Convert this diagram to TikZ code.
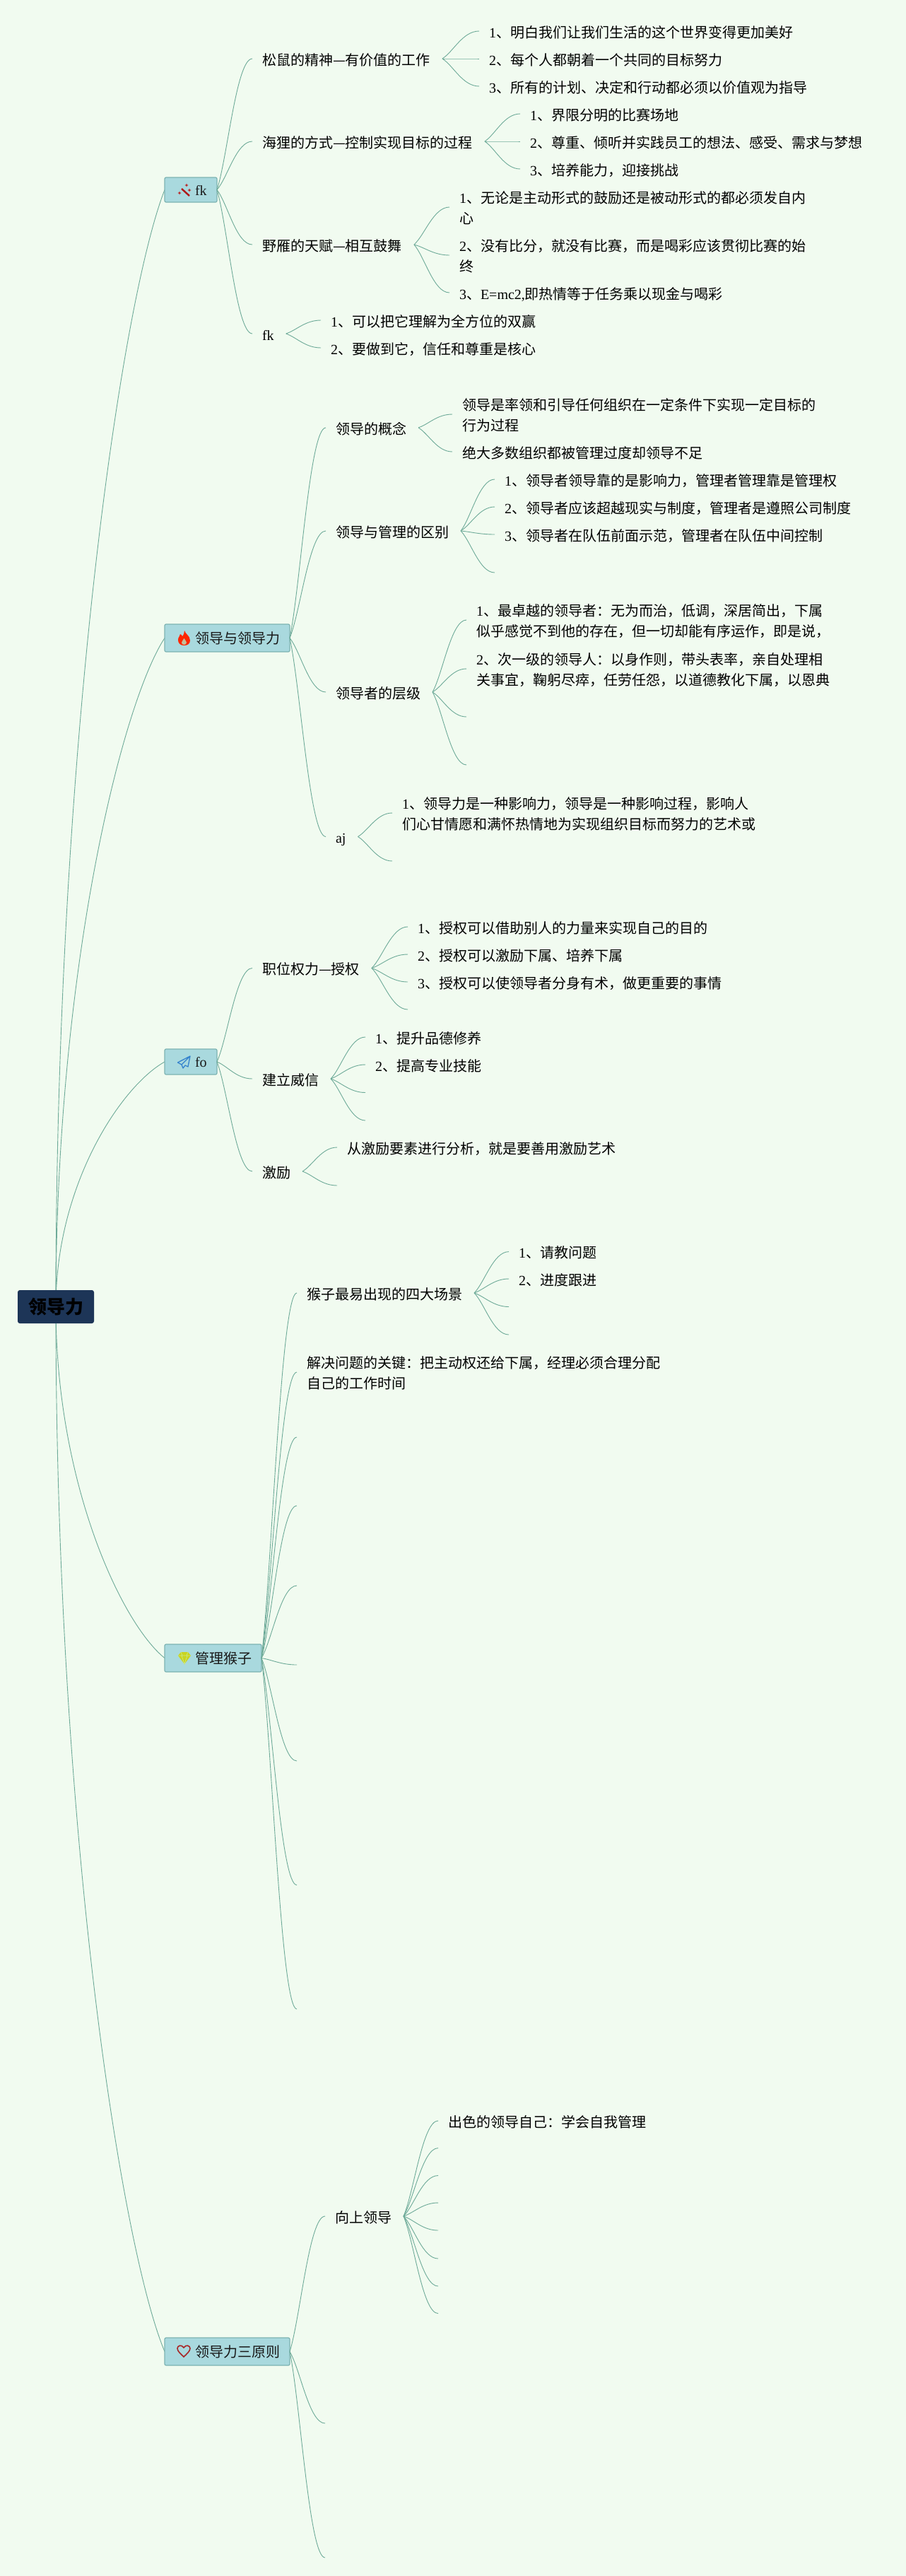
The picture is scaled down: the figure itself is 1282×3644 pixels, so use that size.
\documentclass[tikz,border=0pt]{standalone}
\usepackage{fontspec}
\setmainfont{Noto Sans CJK SC}
\newfontfamily\latfont{Liberation Serif}
\usetikzlibrary{calc,backgrounds}
\definecolor{pagebg}{HTML}{F1FBF0}
\definecolor{linkc}{HTML}{6DAA98}
\definecolor{topicfill}{HTML}{A9D9DE}
\definecolor{topicline}{HTML}{7DB3B2}
\definecolor{rootfill}{HTML}{1D3557}
\newcommand\lat[1]{{\latfont #1}}
\newcommand\mst{\vrule width 0pt height 23.6pt depth 5.4pt\relax}
\newcommand\oneln[1]{\hbox{\hskip14pt\mst #1\hskip17pt}}
\newcommand\twoln[2]{\vbox{\offinterlineskip\hbox{\hskip14pt\mst #1\hskip17pt}\hbox{\hskip14pt\mst #2\hskip17pt}}}
\newcommand\boxln[2]{\hbox to #1{\hskip43pt\vrule width 0pt height 17.6pt depth 2.4pt\relax #2\hfil}}
\newcommand\sbend[2]{\draw[link] let \p1=(#1),\p2=(#2),\n1={\x2-\x1},\n2={\y2-\y1} in
  (\x1,\y1) .. controls (\x1+0.3*\n1,\y1+0.25*\n2) and (\x1+0.55*\n1,\y2) .. (\x2,\y2);}
\newcommand\rbend[2]{\draw[link] let \p1=(#1),\p2=(#2),\n1={\x2-\x1},\n2={\y2-\y1} in
  (\x1,\y1) .. controls (\x1,\y1+0.5*\n2) and (\x1+0.6*\n1,\y1+0.9*\n2) .. (\x2,\y2);}
\tikzset{
  link/.style={draw=linkc,line width=0.9pt},
  txt/.style={inner sep=0pt,anchor=west,outer sep=0pt,font=\fontsize{20}{29}\selectfont,text=black},
  topic/.style={draw=topicline,fill=topicfill,line width=1.2pt,rounded corners=2pt,inner sep=0pt,anchor=west,outer sep=0pt,font=\fontsize{20}{29}\selectfont,text=black!90},
  rootbox/.style={fill=rootfill,rounded corners=3pt,inner sep=0pt,minimum width=108pt,minimum height=47pt,font=\fontsize{26}{30}\selectfont\bfseries,text=black}
}
\begin{document}
\begin{tikzpicture}[x=1pt,y=-1pt]
\useasboundingbox (0,0) rectangle (1282,3644);
\begin{scope}[on background layer]
\fill[pagebg] (0,0) rectangle (1282,3644);
\end{scope}
% root and topics
\node[rootbox] (root) at (79,1848.5) {领导力};
\node[topic,minimum height=35pt] (fk) at (233,268.5) {\boxln{74pt}{\lat{fk}}};
\node[topic,minimum height=39pt] (lead) at (233,902.5) {\boxln{177pt}{领导与领导力}};
\node[topic,minimum height=36pt] (fo) at (233,1502) {\boxln{74pt}{\lat{fo}}};
\node[topic,minimum height=39pt] (mon) at (233,2345.5) {\boxln{137pt}{管理猴子}};
\node[topic,minimum height=39pt] (rule) at (233,3326.5) {\boxln{177pt}{领导力三原则}};
% branch fk
\node[txt] (a1) at (357,83) {\oneln{松鼠的精神—有价值的工作}};
\node[txt] (a2) at (357,200) {\oneln{海狸的方式—控制实现目标的过程}};
\node[txt] (a3) at (357,346) {\oneln{野雁的天赋—相互鼓舞}};
\node[txt] (a4) at (357,472) {\oneln{\lat{fk}}};
\node[txt] (a11) at (678,44) {\oneln{\lat{1}、明白我们让我们生活的这个世界变得更加美好}};
\node[txt] (a12) at (678,83) {\oneln{\lat{2}、每个人都朝着一个共同的目标努力}};
\node[txt] (a13) at (678,122) {\oneln{\lat{3}、所有的计划、决定和行动都必须以价值观为指导}};
\node[txt] (a21) at (736,161) {\oneln{\lat{1}、界限分明的比赛场地}};
\node[txt] (a22) at (736,200) {\oneln{\lat{2}、尊重、倾听并实践员工的想法、感受、需求与梦想}};
\node[txt] (a23) at (736,239) {\oneln{\lat{3}、培养能力，迎接挑战}};
\node[txt] (a31) at (636,293) {\twoln{\lat{1}、无论是主动形式的鼓励还是被动形式的都必须发自内}{心}};
\node[txt] (a32) at (636,361) {\twoln{\lat{2}、没有比分，就没有比赛，而是喝彩应该贯彻比赛的始}{终}};
\node[txt] (a33) at (636,414) {\oneln{\lat{3}、\lat{E=mc2,}即热情等于任务乘以现金与喝彩}};
\node[txt] (a41) at (454,453) {\oneln{\lat{1}、可以把它理解为全方位的双赢}};
\node[txt] (a42) at (454,492) {\oneln{\lat{2}、要做到它，信任和尊重是核心}};
% branch lead
\node[txt] (b1) at (461,605) {\oneln{领导的概念}};
\node[txt] (b2) at (461,751) {\oneln{领导与管理的区别}};
\node[txt] (b3) at (461,979) {\oneln{领导者的层级}};
\node[txt] (b4) at (461,1183.5) {\oneln{\lat{aj}}};
\node[txt] (b11) at (640,586) {\twoln{领导是率领和引导任何组织在一定条件下实现一定目标的}{行为过程}};
\node[txt] (b12) at (640,639) {\oneln{绝大多数组织都被管理过度却领导不足}};
\node[txt] (b21) at (700,678) {\oneln{\lat{1}、领导者领导靠的是影响力，管理者管理靠是管理权}};
\node[txt] (b22) at (700,717) {\oneln{\lat{2}、领导者应该超越现实与制度，管理者是遵照公司制度}};
\node[txt] (b23) at (700,756) {\oneln{\lat{3}、领导者在队伍前面示范，管理者在队伍中间控制}};
\coordinate (b24) at (700,810);
\node[txt] (b31) at (660,877) {\twoln{\lat{1}、最卓越的领导者：无为而治，低调，深居简出，下属}{似乎感觉不到他的存在，但一切却能有序运作，即是说，}};
\node[txt] (b32) at (660,946) {\twoln{\lat{2}、次一级的领导人：以身作则，带头表率，亲自处理相}{关事宜，鞠躬尽瘁，任劳任怨，以道德教化下属，以恩典}};
\coordinate (b33) at (660,1014);
\coordinate (b34) at (660,1082);
\node[txt] (b41) at (555,1150) {\twoln{\lat{1}、领导力是一种影响力，领导是一种影响过程，影响人}{们心甘情愿和满怀热情地为实现组织目标而努力的艺术或}};
\coordinate (b42) at (555,1218);
% branch fo
\node[txt] (c1) at (357,1369.5) {\oneln{职位权力—授权}};
\node[txt] (c2) at (357,1526) {\oneln{建立威信}};
\node[txt] (c3) at (357,1657) {\oneln{激励}};
\node[txt] (c11) at (577,1311) {\oneln{\lat{1}、授权可以借助别人的力量来实现自己的目的}};
\node[txt] (c12) at (577,1350) {\oneln{\lat{2}、授权可以激励下属、培养下属}};
\node[txt] (c13) at (577,1389) {\oneln{\lat{3}、授权可以使领导者分身有术，做更重要的事情}};
\coordinate (c14) at (577,1428);
\node[txt] (c21) at (517,1467) {\oneln{\lat{1}、提升品德修养}};
\node[txt] (c22) at (517,1506) {\oneln{\lat{2}、提高专业技能}};
\coordinate (c23) at (517,1545.5);
\coordinate (c24) at (517,1585);
\node[txt] (c31) at (477,1623) {\oneln{从激励要素进行分析，就是要善用激励艺术}};
\coordinate (c32) at (477,1677);
% branch mon
\node[txt] (d1) at (420,1829) {\oneln{猴子最易出现的四大场景}};
\node[txt] (d2) at (420,1941) {\twoln{解决问题的关键：把主动权还给下属，经理必须合理分配}{自己的工作时间}};
\coordinate (d3) at (420,2033);
\coordinate (d4) at (420,2130);
\coordinate (d5) at (420,2243);
\coordinate (d6) at (420,2355);
\coordinate (d7) at (420,2491);
\coordinate (d8) at (420,2666.5);
\coordinate (d9) at (420,2842);
\node[txt] (d11) at (720,1770.6) {\oneln{\lat{1}、请教问题}};
\node[txt] (d12) at (720,1809) {\oneln{\lat{2}、进度跟进}};
\coordinate (d13) at (720,1848.5);
\coordinate (d14) at (720,1888);
% branch rule
\node[txt] (e1) at (460,3135) {\oneln{向上领导}};
\coordinate (e2) at (460,3428);
\coordinate (e3) at (460,3618);
\node[txt] (e11) at (620,3000) {\oneln{出色的领导自己：学会自我管理}};
\coordinate (e12) at (620,3038.6);
\coordinate (e13) at (620,3077.5);
\coordinate (e14) at (620,3116);
\coordinate (e15) at (620,3155);
\coordinate (e16) at (620,3195);
\coordinate (e17) at (620,3234);
\coordinate (e18) at (620,3272.6);
% connectors
\begin{scope}[on background layer]
\foreach \t in {fk,lead,fo,mon,rule} {\rbend{root.center}{\t.west}}
\end{scope}
\foreach \c in {a1,a2,a3,a4} {\sbend{fk.east}{\c.west}}
\foreach \c in {a11,a12,a13} {\sbend{a1.east}{\c.west}}
\foreach \c in {a21,a22,a23} {\sbend{a2.east}{\c.west}}
\foreach \c in {a31,a32,a33} {\sbend{a3.east}{\c.west}}
\foreach \c in {a41,a42} {\sbend{a4.east}{\c.west}}
\foreach \c in {b1,b2,b3,b4} {\sbend{lead.east}{\c.west}}
\foreach \c in {b11,b12} {\sbend{b1.east}{\c.west}}
\foreach \c in {b21,b22,b23} {\sbend{b2.east}{\c.west}}
\sbend{b2.east}{b24}
\foreach \c in {b31,b32} {\sbend{b3.east}{\c.west}}
\foreach \c in {b33,b34} {\sbend{b3.east}{\c}}
\sbend{b4.east}{b41.west}
\sbend{b4.east}{b42}
\foreach \c in {c1,c2,c3} {\sbend{fo.east}{\c.west}}
\foreach \c in {c11,c12,c13} {\sbend{c1.east}{\c.west}}
\sbend{c1.east}{c14}
\foreach \c in {c21,c22} {\sbend{c2.east}{\c.west}}
\foreach \c in {c23,c24} {\sbend{c2.east}{\c}}
\sbend{c3.east}{c31.west}
\sbend{c3.east}{c32}
\foreach \c in {d1,d2} {\sbend{mon.east}{\c.west}}
\foreach \c in {d3,d4,d5,d6,d7,d8,d9} {\sbend{mon.east}{\c}}
\foreach \c in {d11,d12} {\sbend{d1.east}{\c.west}}
\foreach \c in {d13,d14} {\sbend{d1.east}{\c}}
\sbend{rule.east}{e1.west}
\foreach \c in {e2,e3} {\sbend{rule.east}{\c}}
\sbend{e1.east}{e11.west}
\foreach \c in {e12,e13,e14,e15,e16,e17,e18} {\sbend{e1.east}{\c}}
% icons
\draw[line width=2.4pt,draw=red!65!black!90] (257,267) -- (268,277);
\foreach \p/\r in {254/273,264/262,268/269} {
  \fill[red!70!black!90] (\p,\r-2.6) -- (\p+0.7,\r-0.7) -- (\p+2.6,\r) -- (\p+0.7,\r+0.7) -- (\p,\r+2.6) -- (\p-0.7,\r+0.7) -- (\p-2.6,\r) -- (\p-0.7,\r-0.7) -- cycle;
}
\fill[orange!30!red] (261,892) .. controls (262,897) and (269,899) .. (269,906) .. controls (269,911) and (265,913) .. (260.5,913) .. controls (255,913) and (252,910) .. (252,905) .. controls (252,901) and (255,900) .. (255,897) .. controls (257,898) and (258,899) .. (258,900.5) .. controls (260,898) and (261,895) .. (261,892) -- cycle;
\fill[topicfill!70!orange] (260.5,903) .. controls (262,906) and (264,907) .. (264,909) .. controls (264,911) and (262,912) .. (260.5,912) .. controls (258.5,912) and (257,911) .. (257,909) .. controls (257,907) and (259,906) .. (260.5,903) -- cycle;
\draw[line width=1.3pt,draw=cyan!55!blue!85,line join=round] (269,1494) -- (251.5,1503) -- (257,1506) -- (259,1511) -- (262,1507) -- (266,1509) -- cycle (257,1506) -- (269,1494);
\fill[yellow!85!green!90!black] (252,2342) -- (256,2337) -- (266,2337) -- (270,2342) -- (261,2354) -- cycle;
\draw[line width=0.7pt,draw=topicfill!60!yellow] (252,2342) -- (270,2342) (257,2342) -- (261,2354) -- (265,2342) (256,2337) -- (258,2342) (266,2337) -- (264,2342);
\draw[line width=1.6pt,draw=red!60!black!85] (260,3334) .. controls (256,3330) and (251,3326) .. (251,3322) .. controls (251,3318) and (257,3316) .. (260,3321) .. controls (263,3316) and (269,3318) .. (269,3322) .. controls (269,3326) and (264,3330) .. (260,3334) -- cycle;
\end{tikzpicture}
\end{document}
